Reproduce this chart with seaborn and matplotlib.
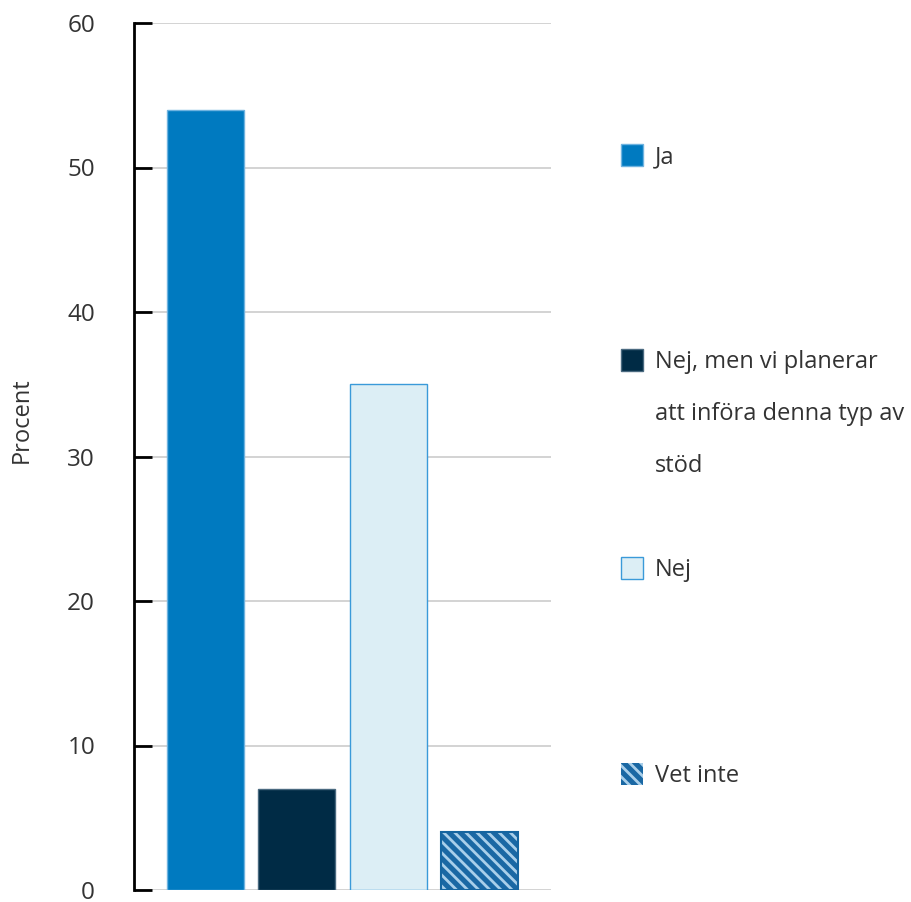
import matplotlib
matplotlib.use("Agg")
import matplotlib.pyplot as plt
import seaborn as sns
import pandas as pd
from matplotlib.patches import Rectangle

categories = ["Ja", "Nej, men vi planerar\natt införa denna typ av\nstöd", "Nej", "Vet inte"]
values = [54, 7, 35, 4]
yticks = [0, 10, 20, 30, 40, 50, 60]
ylabel = "Procent"

face_colors = ["#007ac0", "#002b45", "#dceef5", "#1a68a4"]
edge_colors = ["#6fb3e0", "#4a6a80", "#3a9ad9", "#1565a0"]
hatches = [None, None, None, "\\\\\\"]
hatch_color = "#a9cfea"
text_color = "#333333"

sns.set_theme(style="white")
plt.rcParams["font.family"] = ["Open Sans", "DejaVu Sans"]
plt.rcParams["hatch.linewidth"] = 2.0
plt.rcParams["hatch.color"] = hatch_color

df = pd.DataFrame({"cat": categories, "val": values})

fig = plt.figure(figsize=(9.11, 9.02), dpi=100)
W, H = 911, 902
ax = fig.add_axes([134 / W, 1 - 890 / H, (551 - 134) / W, (890 - 23) / H])

sns.barplot(data=df, x="cat", y="val", hue="cat", palette=face_colors,
            width=0.84, legend=False, ax=ax, saturation=1)

for i, cont in enumerate(ax.containers):
    for p in cont:
        p.set_facecolor(face_colors[i])
        p.set_edgecolor(edge_colors[i])
        p.set_linewidth(1.0)
        if hatches[i]:
            p.set_hatch(hatches[i])
            p.set_edgecolor(hatch_color)
            p.set_linewidth(0)
            p.set_zorder(3)
            ax.add_patch(Rectangle((p.get_x(), p.get_y()), p.get_width(), p.get_height(),
                                   fill=False, edgecolor=edge_colors[i], lw=1.5, zorder=4))

ax.set_xlim(-0.783, 3.783)
ax.set_ylim(0, 60)
ax.set_yticks(yticks)
ax.set_yticklabels([str(t) for t in yticks], fontsize=17.5, color=text_color)
ax.set_xticks([])
ax.set_xlabel("")
ax.set_ylabel("")
ax.yaxis.grid(True, color="#cccccc", linewidth=1.2)
ax.set_axisbelow(True)
for s in ["top", "right", "bottom"]:
    ax.spines[s].set_visible(False)
ax.spines["left"].set_color("black")
ax.spines["left"].set_linewidth(2)
ax.tick_params(axis="y", direction="in", length=13, width=2, color="black", pad=28, left=True)

fig.text(22 / W, 1 - 420 / H, ylabel, rotation=90, ha="center", va="center",
         fontsize=17, color=text_color)

# legend placed manually
centers = [155, 360, 568, 774]
line_gap = 52
for i, lab in enumerate(categories):
    cy = centers[i]
    rect = Rectangle((621 / W, 1 - (cy + 11) / H), 22 / W, 22 / H, transform=fig.transFigure,
                     facecolor=face_colors[i], edgecolor=edge_colors[i], lw=1.0,
                     hatch=hatches[i] if hatches[i] else None)
    if hatches[i]:
        rect.set_edgecolor(hatch_color)
        rect.set_linewidth(0)
    fig.add_artist(rect)
    for j, line in enumerate(lab.split("\n")):
        fig.text(655 / W, 1 - (cy + 2 + j * line_gap) / H, line, ha="left", va="center",
                 fontsize=17, color=text_color)

fig.savefig("out.png", dpi=100)
